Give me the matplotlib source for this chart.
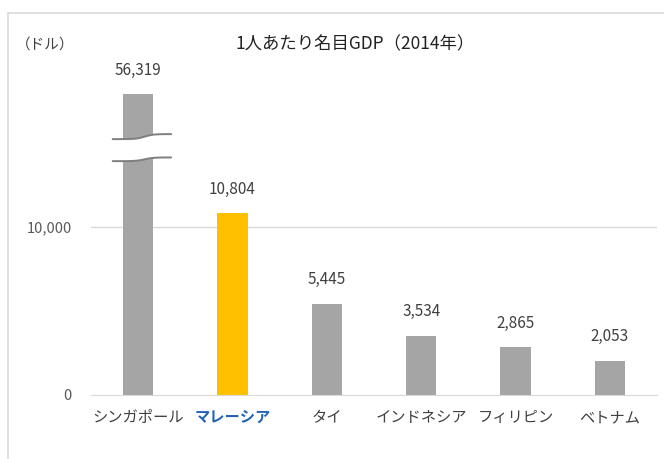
import matplotlib
matplotlib.use("Agg")
import matplotlib.pyplot as plt
import numpy as np
from matplotlib.patches import Rectangle, Polygon

plt.rcParams['font.family'] = ['Noto Sans CJK JP', 'DejaVu Sans']

categories = ["シンガポール", "マレーシア", "タイ", "インドネシア", "フィリピン", "ベトナム"]
values = [56319, 10804, 5445, 3534, 2865, 2053]
value_labels = ["56,319", "10,804", "5,445", "3,534", "2,865", "2,053"]
singapore_display = 17900   # bar height drawn for the broken (truncated) bar
yticks = [0, 10000]
ytick_labels = ["0", "10,000"]
title = "1人あたり名目GDP（2014年）"
unit = "（ドル）"

gray = "#A5A5A5"
gold = "#FFC000"
colors = [gray, gold, gray, gray, gray, gray]

W, H = 664, 459
fig = plt.figure(figsize=(W/100, H/100), dpi=100)
fig.patches.append(Rectangle((8/W, -0.1), 1.2, (H-13)/H + 0.1, transform=fig.transFigure,
                             fill=False, edgecolor="#D9D9D9", linewidth=1.2))

ax = fig.add_axes([91/W, (H-395)/H, (657-91)/W, 336/H])
x = np.arange(len(categories))
heights = [singapore_display] + values[1:]
ax.bar(x, heights, width=0.32, color=colors, zorder=2)
ax.set_xlim(-0.5, len(categories)-0.5)
ax.set_ylim(0, 20000)
ax.set_yticks(yticks)
ax.set_yticklabels(ytick_labels, fontsize=10.5, color="#595959")
ax.tick_params(axis='y', length=0, pad=14)
ax.set_xticks(x)
ax.set_xticklabels(categories, fontsize=11, color="#404040")
ax.tick_params(axis='x', length=0, pad=10)
lbl = ax.get_xticklabels()[1]
lbl.set_color("#2463B5")
lbl.set_fontweight("bold")
for s in ["top", "right", "left"]:
    ax.spines[s].set_visible(False)
ax.spines["bottom"].set_color("#D9D9D9")
ax.axhline(10000, color="#D9D9D9", linewidth=1, zorder=1)

for xi, h, t in zip(x, heights, value_labels):
    ax.annotate(t, (xi, h), xytext=(0, 11), textcoords="offset points",
                ha="center", va="bottom", fontsize=11, color="#404040")

# break marks on the Singapore bar
xs = np.linspace(-0.27, 0.35, 60)
step = 1/(1+np.exp(-(xs-0.07)*22))
upper = 15230 + 300*step
lower = 13920 + 220*step
poly = np.vstack([np.column_stack([xs, upper]), np.column_stack([xs[::-1], lower[::-1]])])
ax.add_patch(Polygon(poly, closed=True, facecolor="white", edgecolor="none", zorder=3))
ax.plot(xs, upper, color="#7F7F7F", lw=1.4, zorder=4, solid_capstyle="round")
ax.plot(xs, lower, color="#7F7F7F", lw=1.4, zorder=4, solid_capstyle="round")

fig.text(355/W, (H-44)/H, title, ha="center", va="center", fontsize=12.5, color="#222222")
fig.text(45/W, (H-45)/H, unit, ha="center", va="center", fontsize=10.5, color="#404040")

fig.savefig("out.png", dpi=100)
